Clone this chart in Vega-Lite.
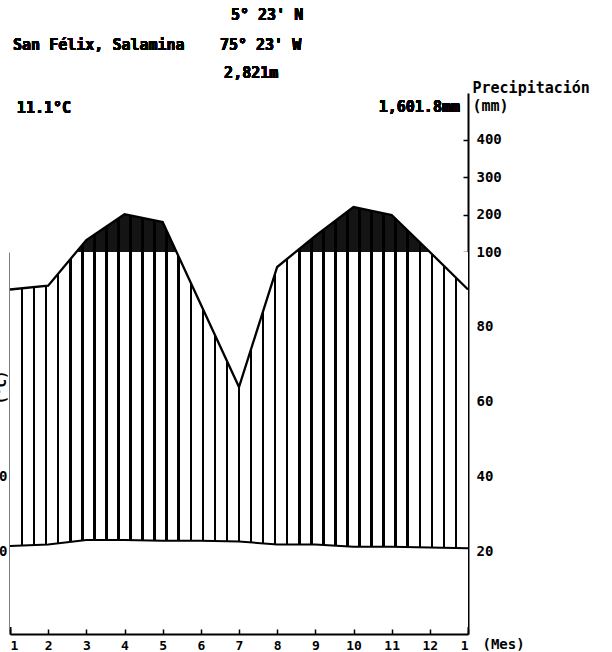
{
  "$schema": "https://vega.github.io/schema/vega-lite/v6.json",
  "width": 458,
  "height": 541,
  "autosize": {"type": "none"},
  "padding": {"left": 10, "top": 93, "right": 144, "bottom": 18},
  "background": "white",
  "config": {
    "view": {"stroke": null},
    "font": "DejaVu Sans Mono",
    "text": {"font": "DejaVu Sans Mono", "fontWeight": "bold", "fontSize": 15, "color": "black"},
    "axis": {"zindex": 1, "grid": false, "labelOverlap": false, "labelBound": false, "domainColor": "black", "domainWidth": 2, "tickColor": "black", "tickWidth": 1.5, "labelColor": "black", "labelFont": "DejaVu Sans Mono", "labelFontWeight": "bold", "labelFontSize": 14, "titleFont": "DejaVu Sans Mono", "titleFontWeight": "bold", "titleFontSize": 15, "titleColor": "black"}
  },
  "data": {
    "values": [
      {"m": 1, "p": 90, "t": 10.8},
      {"m": 2, "p": 91, "t": 11.0},
      {"m": 3, "p": 132, "t": 11.6},
      {"m": 4, "p": 201, "t": 11.6},
      {"m": 5, "p": 180, "t": 11.5},
      {"m": 6, "p": 86, "t": 11.5},
      {"m": 7, "p": 64, "t": 11.4},
      {"m": 8, "p": 96, "t": 11.0},
      {"m": 9, "p": 143, "t": 11.0},
      {"m": 10, "p": 220, "t": 10.7},
      {"m": 11, "p": 199, "t": 10.7},
      {"m": 12, "p": 100, "t": 10.6},
      {"m": 13, "p": 90, "t": 10.5}
    ]
  },
  "resolve": {"scale": {"y": "independent"}, "axis": {"y": "independent"}},
  "layer": [
    {
      "layer": [
        {
          "mark": {"type": "area", "color": "#141414"},
          "encoding": {
            "x": {"field": "m", "type": "quantitative", "scale": {"domain": [1, 13], "nice": false, "zero": false},
              "axis": {"orient": "bottom", "values": [1,2,3,4,5,6,7,8,9,10,11,12,13], "tickCount": 20, "format": "d", "labelOverlap": false, "tickSize": -5, "labelPadding": 10, "labelFontSize": 13, "labelExpr": "datum.value == 13 ? '1' : datum.label", "title": "(Mes)", "titleX": 472, "titleY": 10, "titleFontSize": 14, "titleAlign": "left", "titleAnchor": "start", "titleBaseline": "middle"}},
            "y": {"field": "p", "type": "quantitative", "scale": {"domain": [-1.87, 100, 525], "range": [541, 159, 0], "nice": false, "zero": false},
              "axis": {"orient": "right", "values": [20,40,60,80,100,200,300,400], "tickCount": 20, "format": "d", "labelOverlap": false, "tickSize": -5, "labelPadding": 13, "labelAlign": "left", "title": ["Precipitación", "(mm)"], "titleAngle": 0, "titleAlign": "left", "titleBaseline": "alphabetic", "titleX": 4, "titleY": -1, "titleLineHeight": 18}},
            "y2": {"datum": 100}
          }
        },
        {
          "mark": {"type": "area", "color": "white"},
          "encoding": {
            "x": {"field": "m", "type": "quantitative"},
            "y": {"datum": 100, "type": "quantitative"},
            "y2": {"datum": 0}
          }
        },
        {
          "mark": {"type": "area", "strokeWidth": 0, "fill": {"gradient": "linear", "x1": 0, "x2": 1, "y1": 0, "y2": 0, "stops": [
            {"offset": 0.0236, "color": "rgba(0,0,0,0)"},{"offset": 0.0236, "color": "#000"},{"offset": 0.0290, "color": "#000"},{"offset": 0.0290, "color": "rgba(0,0,0,0)"},
            {"offset": 0.0499, "color": "rgba(0,0,0,0)"},{"offset": 0.0499, "color": "#000"},{"offset": 0.0553, "color": "#000"},{"offset": 0.0553, "color": "rgba(0,0,0,0)"},
            {"offset": 0.0762, "color": "rgba(0,0,0,0)"},{"offset": 0.0762, "color": "#000"},{"offset": 0.0816, "color": "#000"},{"offset": 0.0816, "color": "rgba(0,0,0,0)"},
            {"offset": 0.1026, "color": "rgba(0,0,0,0)"},{"offset": 0.1026, "color": "#000"},{"offset": 0.1080, "color": "#000"},{"offset": 0.1080, "color": "rgba(0,0,0,0)"},
            {"offset": 0.1289, "color": "rgba(0,0,0,0)"},{"offset": 0.1289, "color": "#000"},{"offset": 0.1343, "color": "#000"},{"offset": 0.1343, "color": "rgba(0,0,0,0)"},
            {"offset": 0.1552, "color": "rgba(0,0,0,0)"},{"offset": 0.1552, "color": "#000"},{"offset": 0.1606, "color": "#000"},{"offset": 0.1606, "color": "rgba(0,0,0,0)"},
            {"offset": 0.1815, "color": "rgba(0,0,0,0)"},{"offset": 0.1815, "color": "#000"},{"offset": 0.1869, "color": "#000"},{"offset": 0.1869, "color": "rgba(0,0,0,0)"},
            {"offset": 0.2078, "color": "rgba(0,0,0,0)"},{"offset": 0.2078, "color": "#000"},{"offset": 0.2132, "color": "#000"},{"offset": 0.2132, "color": "rgba(0,0,0,0)"},
            {"offset": 0.2341, "color": "rgba(0,0,0,0)"},{"offset": 0.2341, "color": "#000"},{"offset": 0.2395, "color": "#000"},{"offset": 0.2395, "color": "rgba(0,0,0,0)"},
            {"offset": 0.2605, "color": "rgba(0,0,0,0)"},{"offset": 0.2605, "color": "#000"},{"offset": 0.2659, "color": "#000"},{"offset": 0.2659, "color": "rgba(0,0,0,0)"},
            {"offset": 0.2868, "color": "rgba(0,0,0,0)"},{"offset": 0.2868, "color": "#000"},{"offset": 0.2922, "color": "#000"},{"offset": 0.2922, "color": "rgba(0,0,0,0)"},
            {"offset": 0.3131, "color": "rgba(0,0,0,0)"},{"offset": 0.3131, "color": "#000"},{"offset": 0.3185, "color": "#000"},{"offset": 0.3185, "color": "rgba(0,0,0,0)"},
            {"offset": 0.3394, "color": "rgba(0,0,0,0)"},{"offset": 0.3394, "color": "#000"},{"offset": 0.3448, "color": "#000"},{"offset": 0.3448, "color": "rgba(0,0,0,0)"},
            {"offset": 0.3657, "color": "rgba(0,0,0,0)"},{"offset": 0.3657, "color": "#000"},{"offset": 0.3711, "color": "#000"},{"offset": 0.3711, "color": "rgba(0,0,0,0)"},
            {"offset": 0.3920, "color": "rgba(0,0,0,0)"},{"offset": 0.3920, "color": "#000"},{"offset": 0.3974, "color": "#000"},{"offset": 0.3974, "color": "rgba(0,0,0,0)"},
            {"offset": 0.4184, "color": "rgba(0,0,0,0)"},{"offset": 0.4184, "color": "#000"},{"offset": 0.4238, "color": "#000"},{"offset": 0.4238, "color": "rgba(0,0,0,0)"},
            {"offset": 0.4447, "color": "rgba(0,0,0,0)"},{"offset": 0.4447, "color": "#000"},{"offset": 0.4501, "color": "#000"},{"offset": 0.4501, "color": "rgba(0,0,0,0)"},
            {"offset": 0.4710, "color": "rgba(0,0,0,0)"},{"offset": 0.4710, "color": "#000"},{"offset": 0.4764, "color": "#000"},{"offset": 0.4764, "color": "rgba(0,0,0,0)"},
            {"offset": 0.4973, "color": "rgba(0,0,0,0)"},{"offset": 0.4973, "color": "#000"},{"offset": 0.5027, "color": "#000"},{"offset": 0.5027, "color": "rgba(0,0,0,0)"},
            {"offset": 0.5236, "color": "rgba(0,0,0,0)"},{"offset": 0.5236, "color": "#000"},{"offset": 0.5290, "color": "#000"},{"offset": 0.5290, "color": "rgba(0,0,0,0)"},
            {"offset": 0.5499, "color": "rgba(0,0,0,0)"},{"offset": 0.5499, "color": "#000"},{"offset": 0.5553, "color": "#000"},{"offset": 0.5553, "color": "rgba(0,0,0,0)"},
            {"offset": 0.5762, "color": "rgba(0,0,0,0)"},{"offset": 0.5762, "color": "#000"},{"offset": 0.5816, "color": "#000"},{"offset": 0.5816, "color": "rgba(0,0,0,0)"},
            {"offset": 0.6026, "color": "rgba(0,0,0,0)"},{"offset": 0.6026, "color": "#000"},{"offset": 0.6080, "color": "#000"},{"offset": 0.6080, "color": "rgba(0,0,0,0)"},
            {"offset": 0.6289, "color": "rgba(0,0,0,0)"},{"offset": 0.6289, "color": "#000"},{"offset": 0.6343, "color": "#000"},{"offset": 0.6343, "color": "rgba(0,0,0,0)"},
            {"offset": 0.6552, "color": "rgba(0,0,0,0)"},{"offset": 0.6552, "color": "#000"},{"offset": 0.6606, "color": "#000"},{"offset": 0.6606, "color": "rgba(0,0,0,0)"},
            {"offset": 0.6815, "color": "rgba(0,0,0,0)"},{"offset": 0.6815, "color": "#000"},{"offset": 0.6869, "color": "#000"},{"offset": 0.6869, "color": "rgba(0,0,0,0)"},
            {"offset": 0.7078, "color": "rgba(0,0,0,0)"},{"offset": 0.7078, "color": "#000"},{"offset": 0.7132, "color": "#000"},{"offset": 0.7132, "color": "rgba(0,0,0,0)"},
            {"offset": 0.7341, "color": "rgba(0,0,0,0)"},{"offset": 0.7341, "color": "#000"},{"offset": 0.7395, "color": "#000"},{"offset": 0.7395, "color": "rgba(0,0,0,0)"},
            {"offset": 0.7605, "color": "rgba(0,0,0,0)"},{"offset": 0.7605, "color": "#000"},{"offset": 0.7659, "color": "#000"},{"offset": 0.7659, "color": "rgba(0,0,0,0)"},
            {"offset": 0.7868, "color": "rgba(0,0,0,0)"},{"offset": 0.7868, "color": "#000"},{"offset": 0.7922, "color": "#000"},{"offset": 0.7922, "color": "rgba(0,0,0,0)"},
            {"offset": 0.8131, "color": "rgba(0,0,0,0)"},{"offset": 0.8131, "color": "#000"},{"offset": 0.8185, "color": "#000"},{"offset": 0.8185, "color": "rgba(0,0,0,0)"},
            {"offset": 0.8394, "color": "rgba(0,0,0,0)"},{"offset": 0.8394, "color": "#000"},{"offset": 0.8448, "color": "#000"},{"offset": 0.8448, "color": "rgba(0,0,0,0)"},
            {"offset": 0.8657, "color": "rgba(0,0,0,0)"},{"offset": 0.8657, "color": "#000"},{"offset": 0.8711, "color": "#000"},{"offset": 0.8711, "color": "rgba(0,0,0,0)"},
            {"offset": 0.8920, "color": "rgba(0,0,0,0)"},{"offset": 0.8920, "color": "#000"},{"offset": 0.8974, "color": "#000"},{"offset": 0.8974, "color": "rgba(0,0,0,0)"},
            {"offset": 0.9184, "color": "rgba(0,0,0,0)"},{"offset": 0.9184, "color": "#000"},{"offset": 0.9238, "color": "#000"},{"offset": 0.9238, "color": "rgba(0,0,0,0)"},
            {"offset": 0.9447, "color": "rgba(0,0,0,0)"},{"offset": 0.9447, "color": "#000"},{"offset": 0.9501, "color": "#000"},{"offset": 0.9501, "color": "rgba(0,0,0,0)"},
            {"offset": 0.9710, "color": "rgba(0,0,0,0)"},{"offset": 0.9710, "color": "#000"},{"offset": 0.9764, "color": "#000"},{"offset": 0.9764, "color": "rgba(0,0,0,0)"}
          ]}},
          "encoding": {
            "x": {"field": "m", "type": "quantitative"},
            "y": {"field": "p", "type": "quantitative"},
            "y2": {"datum": 0}
          }
        },
        {
          "mark": {"type": "line", "color": "black", "strokeWidth": 2.3},
          "encoding": {
            "x": {"field": "m", "type": "quantitative"},
            "y": {"field": "p", "type": "quantitative"}
          }
        }
      ]
    },
    {
      "layer": [
        {
          "mark": {"type": "area", "color": "white"},
          "encoding": {
            "x": {"field": "m", "type": "quantitative"},
            "y": {"field": "t", "type": "quantitative", "scale": {"domain": [-0.935, 50], "range": [541, 159], "nice": false, "zero": false},
              "axis": {"orient": "left", "values": [10, 20, 30], "tickCount": 10, "format": "d", "tickSize": -5, "labelPadding": 8, "labelAlign": "right", "labelFontSize": 14, "labelExpr": "datum.value == 30 ? '' : datum.label", "title": "(°C)", "titleAngle": -90, "titleX": -2, "titleY": 294, "titleAlign": "center", "titleBaseline": "bottom", "titleFontSize": 14}},
            "y2": {"datum": 0}
          }
        },
        {
          "mark": {"type": "line", "color": "black", "strokeWidth": 2},
          "encoding": {
            "x": {"field": "m", "type": "quantitative"},
            "y": {"field": "t", "type": "quantitative"}
          }
        }
      ]
    },
    {
      "layer": [
        {
          "mark": {"type": "text", "align": "left", "baseline": "middle"},
          "encoding": {
            "x": {"datum": 6.79, "type": "quantitative"},
            "y": {"datum": 733, "type": "quantitative", "scale": {"domain": [-1.87, 100, 525], "range": [541, 159, 0], "nice": false, "zero": false}, "axis": null},
            "text": {"value": "5° 23' N"}
          }
        },
        {
          "mark": {"type": "text", "align": "left", "baseline": "middle"},
          "encoding": {
            "x": {"datum": 6.5, "type": "quantitative"},
            "y": {"datum": 653, "type": "quantitative"},
            "text": {"value": "75° 23' W"}
          }
        },
        {
          "mark": {"type": "text", "align": "left", "baseline": "middle"},
          "encoding": {
            "x": {"datum": 6.61, "type": "quantitative"},
            "y": {"datum": 578, "type": "quantitative"},
            "text": {"value": "2,821m"}
          }
        },
        {
          "mark": {"type": "text", "align": "left", "baseline": "middle"},
          "encoding": {
            "x": {"datum": 1.08, "type": "quantitative"},
            "y": {"datum": 653, "type": "quantitative"},
            "text": {"value": "San Félix, Salamina"}
          }
        },
        {
          "mark": {"type": "text", "align": "left", "baseline": "middle"},
          "encoding": {
            "x": {"datum": 1.18, "type": "quantitative"},
            "y": {"datum": 485, "type": "quantitative"},
            "text": {"value": "11.1°C"}
          }
        },
        {
          "mark": {"type": "text", "align": "right", "baseline": "middle"},
          "encoding": {
            "x": {"datum": 12.79, "type": "quantitative"},
            "y": {"datum": 487, "type": "quantitative"},
            "text": {"value": "1,601.8mm"}
          }
        }
      ]
    }
  ]
}
